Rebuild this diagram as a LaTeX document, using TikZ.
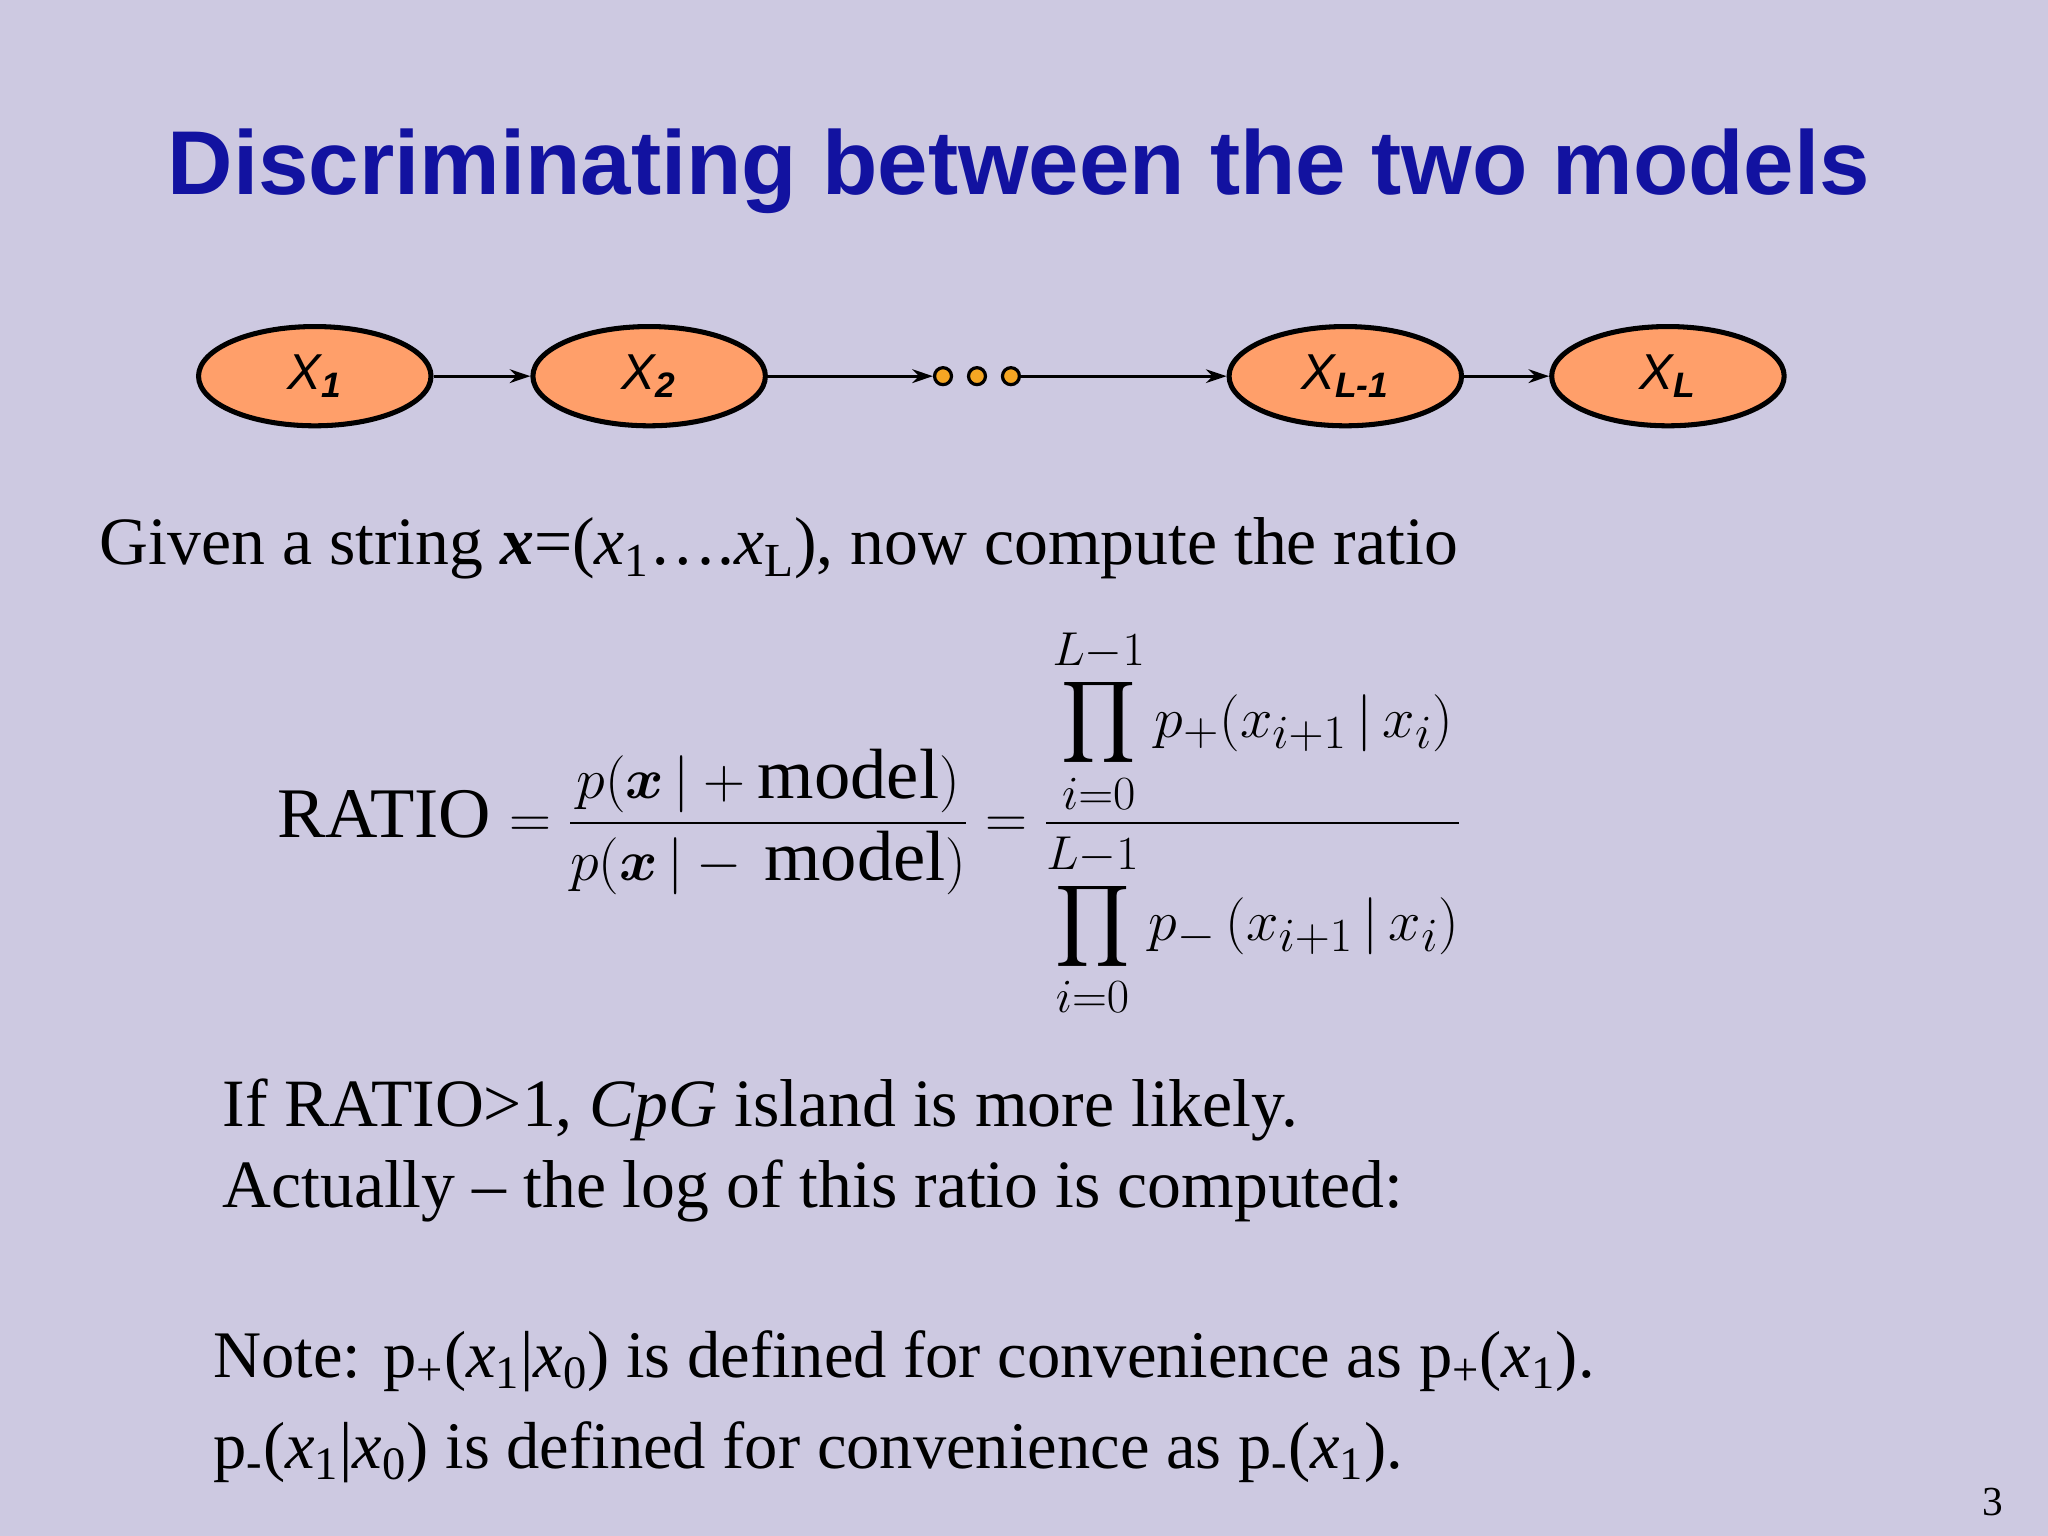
\documentclass[tikz,border=0pt]{standalone}
\usepackage{amsmath}
\usepackage{fontspec}
\setmainfont{Liberation Serif}
\newfontfamily\titlefont{Liberation Sans}
\usetikzlibrary{arrows.meta,shapes.geometric}
\definecolor{bg}{HTML}{CDC9E1}
\definecolor{ttl}{HTML}{1212A0}
\definecolor{nodeor}{HTML}{FF9F6A}
\definecolor{dotor}{HTML}{F5A623}
\begin{document}
\begin{tikzpicture}[x=0.02cm,y=-0.02cm,
  hmm/.style={ellipse,draw=black,line width=2.2pt,fill=nodeor,minimum width=178*0.02cm,minimum height=76*0.02cm,inner sep=0pt,font=\titlefont\itshape\fontsize{22}{24}\selectfont},
  dotc/.style={circle,draw=black,line width=1.4pt,fill=dotor,minimum size=0.26cm,inner sep=0pt},
  arr/.style={-{Stealth[length=9pt,width=6pt]},line width=1.2pt},
  body/.style={anchor=west,inner sep=0pt,font=\fontsize{29.5}{34}\selectfont}]
\fill[bg] (0,0) rectangle (1568,1176);
\node[font=\titlefont\bfseries\fontsize{39.5}{44}\selectfont,text=ttl] (title) at (780,131) {Discriminating between the two models};
\node[hmm] (x1) at (241,288) {X\textsubscript{\bfseries 1}};
\node[hmm] (x2) at (497,288) {X\textsubscript{\bfseries 2}};
\node[hmm] (xl1) at (1030,288) {X\textsubscript{\bfseries L-1}};
\node[hmm] (xl) at (1277,288) {X\textsubscript{\bfseries L}};
\node[dotc] (d1) at (722,288) {};
\node[dotc] (d2) at (748,288) {};
\node[dotc] (d3) at (774,288) {};
\draw[arr] (x1) -- (x2);
\draw[arr] (x2) -- (d1);
\draw[arr] (d3) -- (xl1);
\draw[arr] (xl1) -- (xl);
\node[body] (given) at (76,420) {Given a string \textbf{\textit{x}}=(\textit{x}\textsubscript{1}\dots.\textit{x}\textsubscript{L}), now compute the ratio};
\node[anchor=west,inner sep=0pt,font=\fontsize{31}{36}\selectfont,xscale=1.02] (eq) at (212,630) {RATIO $\displaystyle=\frac{p(\boldsymbol{x}\,|+\text{model})}{p(\boldsymbol{x}\,|-\,\text{model})}=\frac{\displaystyle\prod_{i=0}^{L-1}p_{+}(x_{i+1}\,|\,x_i)}{\displaystyle\prod_{i=0}^{L-1}p_{-}\,(x_{i+1}\,|\,x_i)}$};
\node[body] (if) at (170,850) {If RATIO>1, \textit{CpG} island is more likely.};
\node[body] (act) at (170,912) {Actually -- the log of this ratio is computed:};
\node[body,font=\fontsize{29}{34}\selectfont] (note1) at (163,1042) {Note: p\textsubscript{+}(\textit{x}\textsubscript{1}|\textit{x}\textsubscript{0}) is defined for convenience as p\textsubscript{+}(\textit{x}\textsubscript{1}).};
\node[body,font=\fontsize{29}{34}\selectfont] (note2) at (163,1112) {p\textsubscript{-}(\textit{x}\textsubscript{1}|\textit{x}\textsubscript{0}) is defined for convenience as p\textsubscript{-}(\textit{x}\textsubscript{1}).};
\node[font=\fontsize{18}{18}\selectfont,inner sep=0pt] (pg) at (1526,1150) {3};
\end{tikzpicture}
\end{document}
